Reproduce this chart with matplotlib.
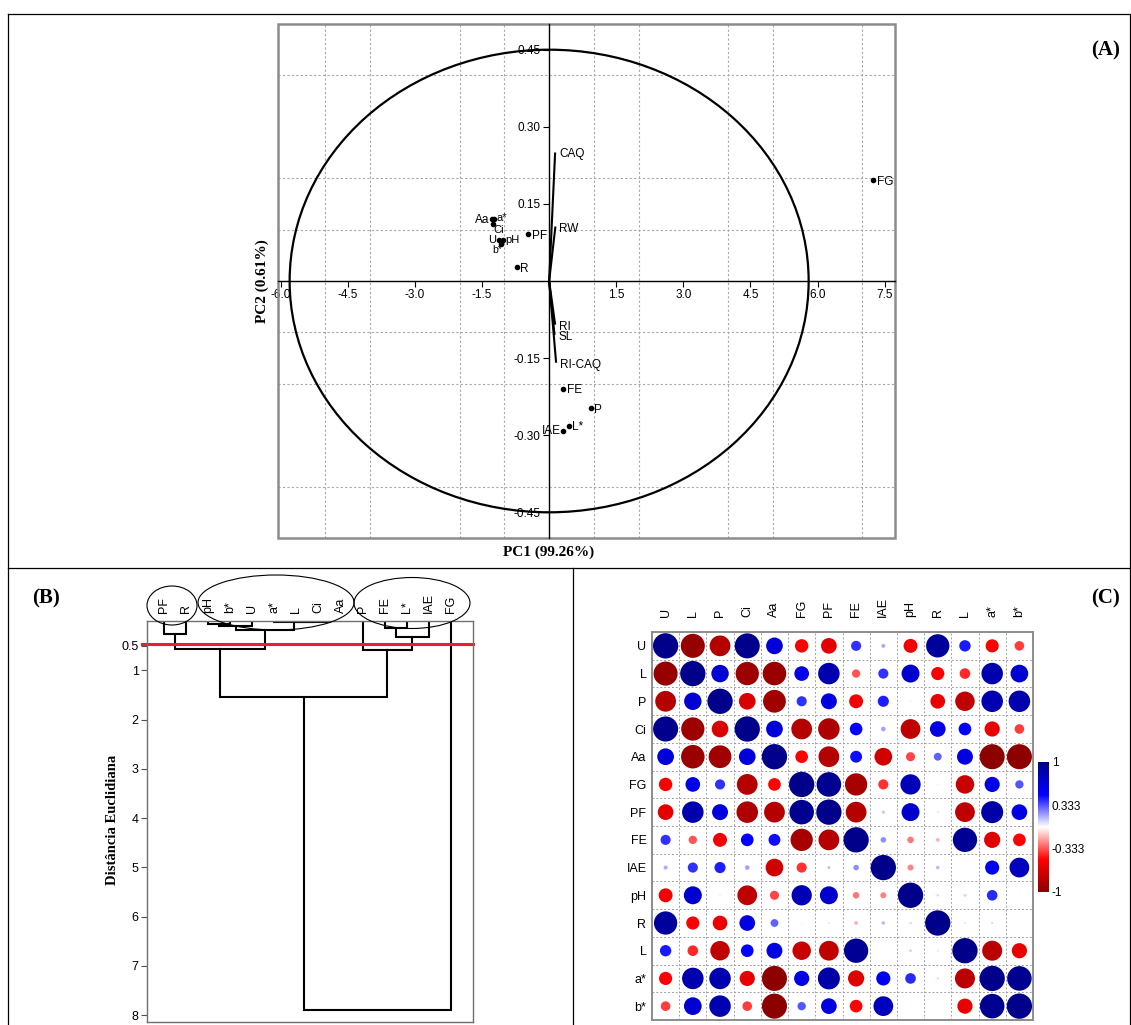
import numpy as np
import matplotlib
matplotlib.use("Agg")
import matplotlib.pyplot as plt
from matplotlib.patches import Ellipse, Rectangle
from matplotlib.lines import Line2D
from matplotlib.colors import LinearSegmentedColormap, Normalize
from matplotlib.colorbar import ColorbarBase

plt.rcParams["font.family"] = ["Liberation Sans", "DejaVu Sans"]
plt.rcParams["axes.unicode_minus"] = False
SERIF = ["Liberation Serif", "DejaVu Serif"]

# ---------------- (A) PCA biplot ----------------
score_labels = ["FG", "Aa", "a*", "Ci", "U", "pH", "b*", "PF", "R", "FE", "P", "L*", "IAE"]
score_pc1 = [7.24, -1.285, -1.23, -1.25, -1.12, -1.03, -1.08, -0.47, -0.72, 0.32, 0.93, 0.45, 0.31]
score_pc2 = [0.197, 0.120, 0.120, 0.111, 0.080, 0.080, 0.072, 0.092, 0.028, -0.210, -0.247, -0.283, -0.291]

loading_labels = ["CAQ", "RW", "RI", "SL", "RI-CAQ"]
loading_pc1 = [0.134, 0.14, 0.134, 0.12, 0.156]
loading_pc2 = [0.250, 0.106, -0.085, -0.105, -0.159]

circle_pc1 = 5.8
circle_pc2 = 0.45

pc1_ticks = [-6.0, -4.5, -3.0, -1.5, 1.5, 3.0, 4.5, 6.0, 7.5]
pc2_ticks = [-0.45, -0.30, -0.15, 0.15, 0.30, 0.45]

# ---------------- (B) dendrogram ----------------
leaf_labels = ["PF", "R", "pH", "b*", "U", "a*", "L", "Ci", "Aa", "P", "FE", "L*", "IAE", "FG"]
# (child, child, distance); ids >= 14 refer to earlier merges
merges = [
    (7, 8, 0.01),
    (6, 14, 0.02),
    (5, 15, 0.03),
    (2, 3, 0.055),
    (17, 4, 0.095),
    (18, 16, 0.18),
    (0, 1, 0.27),
    (20, 19, 0.56),
    (10, 11, 0.15),
    (22, 12, 0.32),
    (9, 23, 0.59),
    (21, 24, 1.54),
    (25, 13, 7.89),
]
cut_height = 0.47
dist_ticks = [0.5, 1, 2, 3, 4, 5, 6, 7, 8]

# ---------------- (C) correlation matrix ----------------
corr_labels = ["U", "L", "P", "Ci", "Aa", "FG", "PF", "FE", "IAE", "pH", "R", "L", "a*", "b*"]
corr_values = [
    [1.00, -0.95, -0.82, 0.99, 0.66, -0.53, -0.62, 0.40, 0.16, -0.55, 0.92, 0.45, -0.52, -0.38],
    [-0.95, 1.00, 0.69, -0.92, -0.93, 0.58, 0.85, -0.33, 0.40, 0.71, -0.52, -0.42, 0.85, 0.70],
    [-0.82, 0.69, 1.00, -0.66, -0.90, 0.40, 0.63, -0.55, 0.44, -0.06, -0.58, -0.77, 0.85, 0.85],
    [0.99, -0.92, -0.66, 1.00, 0.66, -0.82, -0.85, 0.50, 0.18, -0.78, 0.62, 0.50, -0.60, -0.38],
    [0.66, -0.93, -0.90, 0.66, 1.00, -0.50, -0.82, 0.47, -0.70, -0.36, 0.31, 0.63, -0.99, -0.99],
    [-0.53, 0.58, 0.40, -0.82, -0.50, 1.00, 0.97, -0.88, -0.40, 0.80, -0.05, -0.73, 0.60, 0.33],
    [-0.62, 0.85, 0.63, -0.85, -0.82, 0.97, 1.00, -0.82, 0.12, 0.71, -0.07, -0.78, 0.87, 0.62],
    [0.40, -0.33, -0.55, 0.50, 0.47, -0.88, -0.82, 1.00, 0.22, -0.26, -0.15, 0.96, -0.64, -0.50],
    [0.16, 0.40, 0.44, 0.18, -0.70, -0.40, 0.12, 0.22, 1.00, -0.24, 0.14, -0.04, 0.56, 0.78],
    [-0.55, 0.71, -0.06, -0.78, -0.36, 0.80, 0.71, -0.26, -0.24, 1.00, -0.10, -0.11, 0.42, 0.04],
    [0.92, -0.52, -0.58, 0.62, 0.31, -0.05, -0.07, -0.15, 0.14, -0.10, 1.00, 0.07, -0.09, 0.03],
    [0.45, -0.42, -0.77, 0.50, 0.63, -0.73, -0.78, 0.96, -0.04, -0.11, 0.07, 1.00, -0.79, -0.60],
    [-0.52, 0.85, 0.85, -0.60, -0.99, 0.60, 0.87, -0.64, 0.56, 0.42, -0.09, -0.79, 1.00, 0.97],
    [-0.38, 0.70, 0.85, -0.38, -0.99, 0.33, 0.62, -0.50, 0.78, 0.04, 0.03, -0.60, 0.97, 1.00],
]
cbar_ticks = [1, 0.333, -0.333, -1]

W, H = 1131, 1025


def rect(left, top, right, bottom):
    return [left / W, 1 - bottom / H, (right - left) / W, (bottom - top) / H]


def fx(x):
    return x / W


def fy(y):
    return 1 - y / H


fig = plt.figure(figsize=(W / 100, H / 100), dpi=100)

# panel borders
for (x0, y0, x1, y1) in [(8, 14, 1130, 14), (8, 14, 8, 1025), (1130, 14, 1130, 1025),
                         (8, 568, 1130, 568), (573, 568, 573, 1025)]:
    fig.add_artist(Line2D([fx(x0), fx(x1)], [fy(y0), fy(y1)], color="black", lw=0.9))

# ---------------- (A) ----------------
ax = fig.add_axes(rect(278, 24, 895, 538))
ax.set_xlim(-6.06, 7.73)
ax.set_ylim(-0.5, 0.5)
for s in ["top", "right"]:
    ax.spines[s].set_visible(False)
ax.spines["left"].set_position(("data", 0))
ax.spines["bottom"].set_position(("data", 0))
ax.spines["left"].set_linewidth(1.0)
ax.spines["bottom"].set_linewidth(1.0)
ax.set_xticks(pc1_ticks)
ax.set_xticklabels([f"{t:.1f}" for t in pc1_ticks])
ax.set_yticks(pc2_ticks)
ax.set_yticklabels([f"{t:.2f}" for t in pc2_ticks])
ax.set_xticks(np.arange(-5, 8), minor=True)
ax.set_yticks(np.round(np.arange(-0.4, 0.45, 0.1), 2), minor=True)
ax.tick_params(which="minor", length=0)
ax.tick_params(which="major", length=4, width=0.8, labelsize=8.5, pad=2)
ax.grid(which="minor", color="#a8a8a8", linestyle=(0, (2, 2)), linewidth=0.8)
ax.set_axisbelow(True)
ax.add_patch(Rectangle((0, 0), 1, 1, transform=ax.transAxes, fill=False,
                       edgecolor="#8c8c8c", linewidth=1.8, clip_on=False))
ax.add_patch(Ellipse((0, 0), 2 * circle_pc1, 2 * circle_pc2, fill=False,
                     edgecolor="black", linewidth=1.6))

for lab, x, y in zip(loading_labels, loading_pc1, loading_pc2):
    ax.plot([0, x], [0, y], color="black", lw=1.5, solid_capstyle="butt")
    ax.annotate(lab, (x, y), xytext=(4, -2), textcoords="offset pixels",
                ha="left", va="center", fontsize=8.5)

# label offset (px), alignment and size for each score point
score_offsets = {
    "FG": (4, -2, "left", 8.5), "Aa": (-2, -1, "right", 8.5), "a*": (2, 1, "left", 8),
    "Ci": (0, -6, "left", 8), "U": (-3, 0, "right", 8), "pH": (2, 0, "left", 8),
    "b*": (-4, -6, "center", 7.5), "PF": (4, -2, "left", 8.5), "R": (3, -2, "left", 8.5),
    "FE": (4, -1, "left", 8.5), "P": (3, -2, "left", 8.5), "L*": (3, -1, "left", 8.5),
    "IAE": (-2, 0, "right", 8.5),
}
for lab, x, y in zip(score_labels, score_pc1, score_pc2):
    ax.plot(x, y, "o", ms=3, color="black")
    dx, dy, ha, fs = score_offsets[lab]
    ax.annotate(lab, (x, y), xytext=(dx, dy), textcoords="offset pixels",
                ha=ha, va="center", fontsize=fs)

fig.text(fx(549), fy(552), "PC1 (99.26%)", ha="center", va="center",
         family=SERIF, weight="bold", fontsize=11)
fig.text(fx(262), fy(281), "PC2 (0.61%)", ha="center", va="center", rotation=90,
         family=SERIF, weight="bold", fontsize=11)
fig.text(fx(1106), fy(50), "(A)", ha="center", va="center", family=SERIF,
         weight="bold", fontsize=15)

# ---------------- (B) ----------------
axb = fig.add_axes(rect(147, 621, 473, 1022))
axb.set_xlim(-0.77, 14.0)
axb.set_ylim(8.14, 0)
for s in axb.spines.values():
    s.set_color("#707070")
    s.set_linewidth(1.0)

pos = {i: float(i) for i in range(len(leaf_labels))}
height = {i: 0.0 for i in range(len(leaf_labels))}
node = len(leaf_labels)
for a, b, h in merges:
    axb.plot([pos[a], pos[a], pos[b], pos[b]], [height[a], h, h, height[b]],
             color="black", lw=1.5, solid_joinstyle="miter")
    pos[node] = (pos[a] + pos[b]) / 2
    height[node] = h
    node += 1

axb.plot([-1.0, 14.0], [cut_height, cut_height], color="#e8202a", lw=2.2, clip_on=False)

axb.set_xticks([])
axb.set_yticks(dist_ticks)
axb.set_yticklabels([f"{t:g}" for t in dist_ticks])
axb.tick_params(axis="y", length=4, width=0.8, labelsize=9, pad=2, color="#505050")

for i, lab in enumerate(leaf_labels):
    axb.text(i, -0.17, lab, rotation=90, ha="center", va="bottom", fontsize=9,
             clip_on=False)

for cx, cy, w, h in [(172, 605.5, 50, 39), (276, 602.5, 156, 55), (412, 603, 116, 51)]:
    fig.add_artist(Ellipse((fx(cx), fy(cy)), w / W, h / H, transform=fig.transFigure,
                           fill=False, edgecolor="black", lw=0.8))

fig.text(fx(112), fy(820), "Distância Euclidiana", ha="center", va="center",
         rotation=90, family=SERIF, weight="bold", fontsize=10.5)
fig.text(fx(46), fy(598), "(B)", ha="center", va="center", family=SERIF,
         weight="bold", fontsize=15)

# ---------------- (C) ----------------
cmap = LinearSegmentedColormap.from_list(
    "corr", ["#8b0000", "#ff0000", "#ffffff", "#0000ff", "#00008b"])
norm = Normalize(-1, 1)

axc = fig.add_axes(rect(652, 632, 1033, 1020))
n = len(corr_labels)
axc.set_xlim(0, n)
axc.set_ylim(n, 0)
vals = np.array(corr_values)
cols, rows = np.meshgrid(np.arange(n), np.arange(n))
cell_px = (1033 - 652) / n
diam_pt = 0.93 * np.abs(vals) * cell_px * 0.72
axc.scatter(cols.ravel() + 0.5, rows.ravel() + 0.5, s=diam_pt.ravel() ** 2,
            c=vals.ravel(), cmap=cmap, norm=norm, edgecolors="none", zorder=3)

axc.set_xticks(np.arange(n) + 0.5)
axc.set_xticklabels(corr_labels, rotation=90)
axc.set_yticks(np.arange(n) + 0.5)
axc.set_yticklabels(corr_labels)
axc.xaxis.tick_top()
axc.tick_params(axis="x", length=0, labelsize=9, pad=11)
axc.tick_params(axis="y", length=0, labelsize=9, pad=4)
axc.set_xticks(np.arange(1, n), minor=True)
axc.set_yticks(np.arange(1, n), minor=True)
axc.tick_params(which="minor", length=0)
axc.grid(which="minor", color="#a0a0a0", linestyle=(0, (2, 2)), linewidth=0.7)
axc.set_axisbelow(True)
for s in axc.spines.values():
    s.set_color("#8c8c8c")
    s.set_linewidth(1.4)

cax = fig.add_axes(rect(1038, 762, 1049, 892))
cb = ColorbarBase(cax, cmap=cmap, norm=norm, ticks=cbar_ticks)
cb.ax.set_yticklabels([f"{t:g}" for t in cbar_ticks])
cb.outline.set_visible(False)
cax.tick_params(length=0, labelsize=8.5, pad=2)

fig.text(fx(1106), fy(598), "(C)", ha="center", va="center", family=SERIF,
         weight="bold", fontsize=15)

fig.savefig("out.png", dpi=100)
